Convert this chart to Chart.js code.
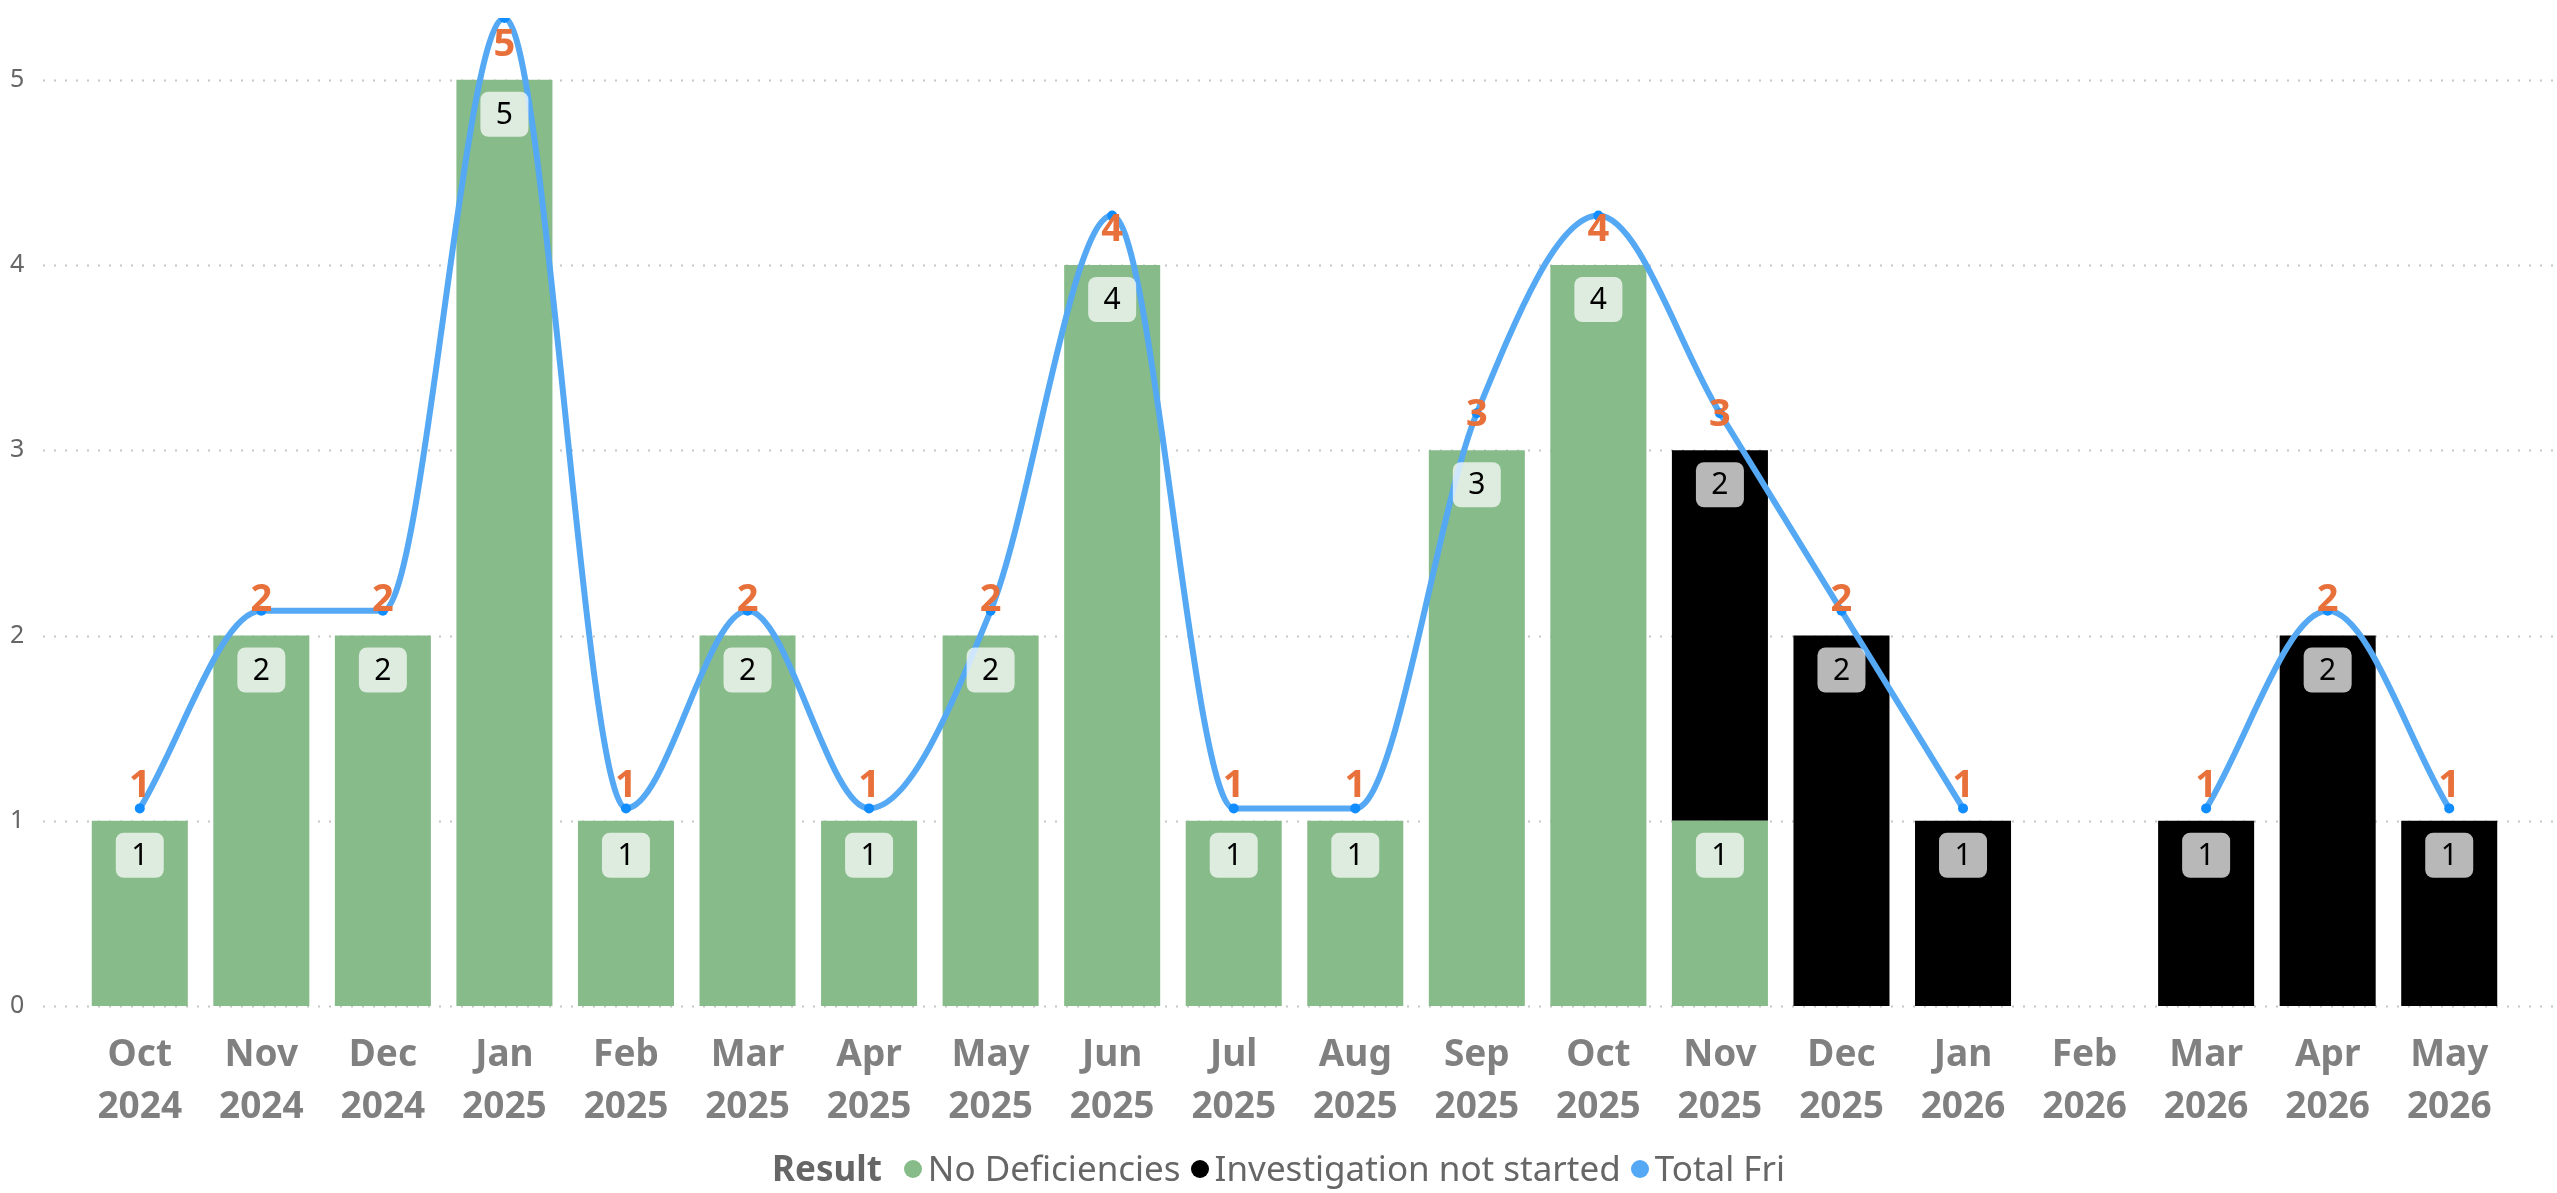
<!DOCTYPE html>
<html>
<head>
<meta charset="utf-8">
<script src="https://cdn.jsdelivr.net/npm/chart.js@4.4.1/dist/chart.umd.min.js"></script>
<style>
  body { margin: 0; background: #fff; }
  #wrap { position: relative; width: 2557px; height: 1193px; }
  #legend { position: absolute; left: 0; right: 0; top: 1144px; text-align: center;
            font-family: "Noto Sans", sans-serif; font-size: 35px; color: #666; white-space: nowrap; }
  #legend b { color: #666; margin-right: 12px; }
  #legend .dot { display: inline-block; width: 18px; height: 18px; border-radius: 50%;
                 margin: 0 6px 0 10px; vertical-align: 3px; }
</style>
</head>
<body>
<div id="wrap">
  <canvas id="myChart" width="2557" height="1193"></canvas>
  <div id="legend"></div>
</div>
<script>
// categories
const months = ['Oct', 'Nov', 'Dec', 'Jan', 'Feb', 'Mar', 'Apr', 'May', 'Jun', 'Jul',
                'Aug', 'Sep', 'Oct', 'Nov', 'Dec', 'Jan', 'Feb', 'Mar', 'Apr', 'May'];
const years = ['2024', '2024', '2024', '2025', '2025', '2025', '2025', '2025', '2025', '2025',
               '2025', '2025', '2025', '2025', '2025', '2026', '2026', '2026', '2026', '2026'];

// series
const noDeficiencies = [1, 2, 2, 5, 1, 2, 1, 2, 4, 1, 1, 3, 4, 1, null, null, null, null, null, null];
const notStarted = [null, null, null, null, null, null, null, null, null, null,
                    null, null, null, 2, 2, 1, null, 1, 2, 1];
const totalFri = [1, 2, 2, 5, 1, 2, 1, 2, 4, 1, 1, 3, 4, 3, 2, 1, null, 1, 2, 1];

const yTicks = [0, 1, 2, 3, 4, 5];

const green = '#87BB89';
const blue = '#55A8F4';
const orange = '#E8703A';

document.addEventListener("DOMContentLoaded", function() {
    const ctx = document.getElementById('myChart').getContext('2d');
    const labels = months.map((m, i) => [m, years[i]]);

    // dotted gridlines running the full width, behind the bars
    const dottedGrid = {
        id: 'dottedGrid',
        beforeDatasetsDraw(chart) {
            const c = chart.ctx;
            const y = chart.scales.y;
            c.save();
            c.strokeStyle = '#c6c6c6';
            c.lineWidth = 2;
            c.setLineDash([2, 9]);
            yTicks.forEach(function(v) {
                const py = Math.round(y.getPixelForValue(v)) + 0.5;
                c.beginPath();
                c.moveTo(43, py);
                c.lineTo(chart.width, py);
                c.stroke();
            });
            c.restore();
        }
    };

    // value boxes on bars and orange totals on the line
    const valueLabels = {
        id: 'valueLabels',
        afterDatasetsDraw(chart) {
            const c = chart.ctx;
            c.save();
            [0, 1].forEach(function(di) {
                const meta = chart.getDatasetMeta(di);
                const ds = chart.data.datasets[di];
                meta.data.forEach(function(bar, i) {
                    const v = ds.data[i];
                    if (!v) return;
                    const w = 48, h = 45;
                    const bx = bar.x - w / 2, by = bar.y + 12;
                    c.fillStyle = 'rgba(255,255,255,0.72)';
                    c.beginPath();
                    c.roundRect(bx, by, w, h, 8);
                    c.fill();
                    c.fillStyle = '#000';
                    c.font = '30px "Noto Sans"';
                    c.textAlign = 'center';
                    c.textBaseline = 'middle';
                    c.fillText(String(v), bar.x, by + h / 2 + 1);
                });
            });
            const lineMeta = chart.getDatasetMeta(2);
            const y = chart.scales.y;
            lineMeta.data.forEach(function(pt, i) {
                const v = totalFri[i];
                if (v == null) return;
                c.fillStyle = orange;
                c.font = 'bold 38px "Noto Sans"';
                c.textAlign = 'center';
                c.textBaseline = 'middle';
                c.fillText(String(v), pt.x, y.getPixelForValue(v) - 35);
            });
            c.restore();
        }
    };

    new Chart(ctx, {
        type: 'bar',
        data: {
            labels: labels,
            datasets: [{
                label: 'No Deficiencies',
                data: noDeficiencies,
                backgroundColor: green,
                yAxisID: 'y',
                order: 2,
                categoryPercentage: 1,
                barPercentage: 0.79
            }, {
                label: 'Investigation not started',
                data: notStarted,
                backgroundColor: '#000',
                yAxisID: 'y',
                order: 2,
                categoryPercentage: 1,
                barPercentage: 0.79
            }, {
                type: 'line',
                label: 'Total Fri',
                data: totalFri,
                yAxisID: 'y1',
                borderColor: blue,
                borderWidth: 6,
                cubicInterpolationMode: 'monotone',
                pointRadius: 5,
                pointBackgroundColor: '#118DFF',
                pointBorderWidth: 0,
                spanGaps: false,
                order: 1
            }]
        },
        options: {
            responsive: false,
            animation: false,
            layout: { padding: { left: 10, right: 47, top: 13, bottom: 62 } },
            scales: {
                x: {
                    stacked: true,
                    grid: { display: false, drawTicks: false },
                    border: { display: false },
                    ticks: {
                        maxRotation: 0,
                        autoSkip: false,
                        padding: 24,
                        color: '#808080',
                        font: { family: 'Noto Sans', size: 37, weight: 'bold', lineHeight: 1.4 }
                    },
                    afterFit(scale) { scale.height = 125; }
                },
                y: {
                    stacked: true,
                    min: 0,
                    max: 16 / 3,
                    grid: { display: false, drawTicks: false },
                    border: { display: false },
                    ticks: {
                        stepSize: 1,
                        includeBounds: false,
                        crossAlign: 'far',
                        color: '#666',
                        font: { family: 'Noto Sans', size: 25 }
                    },
                    afterFit(scale) { scale.width = 69; }
                },
                y1: {
                    display: false,
                    min: 0,
                    max: 5
                }
            },
            plugins: {
                legend: { display: false },
                tooltip: { enabled: false }
            }
        },
        plugins: [dottedGrid, valueLabels]
    });

    // legend row
    const items = [['No Deficiencies', green], ['Investigation not started', '#000'], ['Total Fri', blue]];
    let html = '<b>Result</b>';
    items.forEach(function(it) {
        html += '<span class="dot" style="background:' + it[1] + '"></span>' + it[0];
    });
    document.getElementById('legend').innerHTML = html;
});
</script>
</body>
</html>
